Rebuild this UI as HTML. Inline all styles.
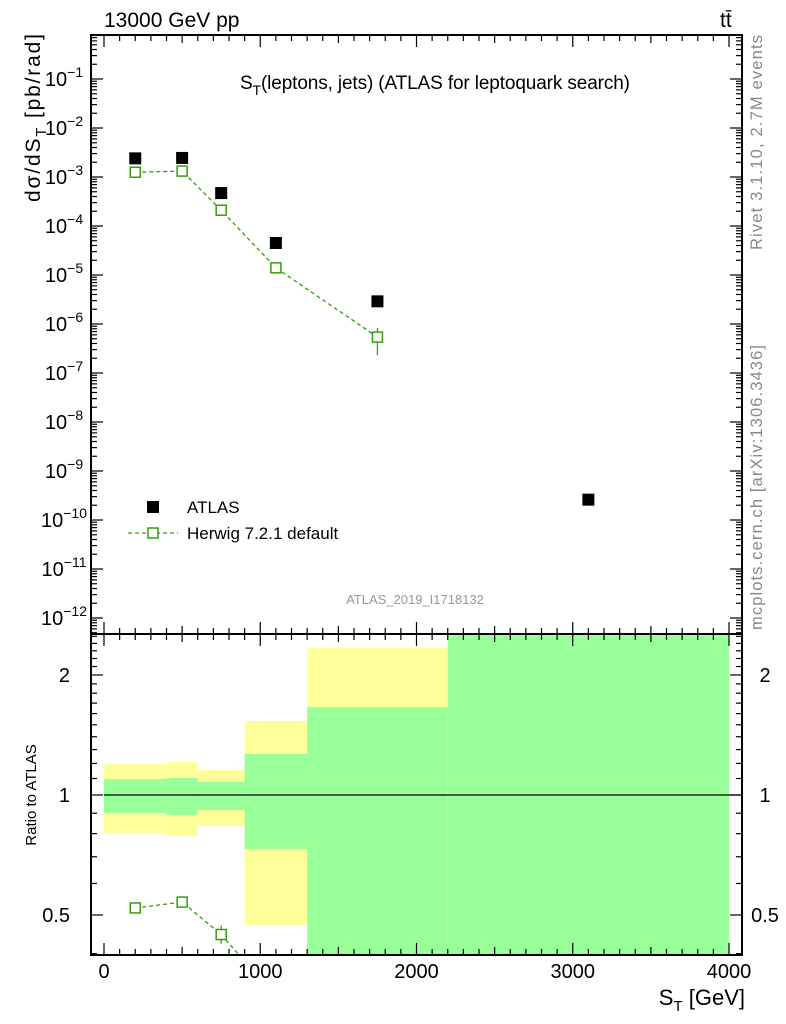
<!DOCTYPE html>
<html><head><meta charset="utf-8"><style>
html,body{margin:0;background:#fff;overflow:hidden;width:786px;height:1024px;}
svg{display:block;font-family:"Liberation Sans",sans-serif;}
</style></head><body>
<svg id="c" width="786" height="1024" xmlns="http://www.w3.org/2000/svg">
<g id="bands"></g>
<g id="marks"></g>
<g id="axes"></g>
<text x="104" y="27" font-size="21">13000 GeV pp</text>
<text x="720" y="27" font-size="21">tt̄</text>
<text x="240" y="89" font-size="19" textLength="390">S<tspan font-size="14" dy="6">T</tspan><tspan dy="-6">(leptons, jets) (ATLAS for leptoquark search)</tspan></text>
<text x="415" y="604" font-size="13" fill="#999" text-anchor="middle">ATLAS_2019_I1718132</text>
<text transform="translate(40,202) rotate(-90)" font-size="21" textLength="168">dσ/dS<tspan font-size="15" dy="6">T</tspan><tspan dy="-6"> [pb/rad]</tspan></text>
<text transform="translate(36,795) rotate(-90)" font-size="15" text-anchor="middle">Ratio to ATLAS</text>
<text x="745" y="1005" font-size="22" text-anchor="end">S<tspan font-size="15" dy="6">T</tspan><tspan dy="-6"> [GeV]</tspan></text>
<text transform="translate(762,250) rotate(-90)" font-size="16.5" fill="#888" textLength="215">Rivet 3.1.10,  2.7M events</text>
<text transform="translate(762,630) rotate(-90)" font-size="16.5" fill="#888" textLength="285">mcplots.cern.ch [arXiv:1306.3436]</text>
<g>
<rect x="147" y="501" width="12" height="12" fill="#000"/>
<text x="187" y="513" font-size="17">ATLAS</text>
<line x1="128" y1="533" x2="178" y2="533" stroke="#3a9a10" stroke-width="1.3" stroke-dasharray="4,3"/>
<rect x="148" y="528" width="10" height="10" fill="#fff" stroke="#3a9a10" stroke-width="1.5"/>
<text x="187" y="539" font-size="17">Herwig 7.2.1 default</text>
</g>
</svg>
<script>
const xVals=[200,500,750,1100,1750,3100];
const atlas=[2.4e-3,2.45e-3,4.7e-4,4.5e-5,2.9e-6,2.6e-10];
const herwig=[1.25e-3,1.32e-3,2.1e-4,1.4e-5,5.4e-7];
const herwigLo=[1.24e-3,1.31e-3,1.99e-4,1.33e-5,2.3e-7];
const herwigHi=[1.26e-3,1.33e-3,2.21e-4,1.47e-5,8.3e-7];
const binEdges=[0,400,600,900,1300,2200,4000];
const yellowHi=[1.196,1.21,1.155,1.533,2.337,10];
const yellowLo=[0.803,0.789,0.836,0.472,0.1,0.1];
const greenHi=[1.097,1.103,1.078,1.267,1.663,10];
const greenLo=[0.901,0.891,0.917,0.732,0.1,0.1];
const xTicks=[0,1000,2000,3000,4000];
const yExps=[-12,-11,-10,-9,-8,-7,-6,-5,-4,-3,-2,-1];
const rTicks=[0.5,1,2];

const NS="http://www.w3.org/2000/svg";
const L=91,R=742,T=35,M=634,B=955;
const X=v=>104+v*625/4000;
const Y=v=>79-(Math.log10(v)+1)*49;
const RY=v=>795-Math.log10(v)*398.7;
function mk(p,tag,at){const e=document.createElementNS(NS,tag);for(const k in at)e.setAttribute(k,at[k]);p.appendChild(e);return e;}
const bands=document.getElementById('bands'),marks=document.getElementById('marks'),axes=document.getElementById('axes');
const clip=v=>Math.max(M,Math.min(B,v));
for(let i=0;i<6;i++){
 let y1=clip(RY(yellowHi[i])),y2=clip(RY(yellowLo[i]));
 const r=mk(bands,'rect',{x:X(binEdges[i]),y:y1,width:X(binEdges[i+1])-X(binEdges[i]),height:y2-y1,fill:'#ffff99'});
 
 
 y1=clip(RY(greenHi[i]));y2=clip(RY(greenLo[i]));
 const g=mk(bands,'rect',{x:X(binEdges[i]),y:y1,width:X(binEdges[i+1])-X(binEdges[i]),height:y2-y1,fill:'#99ff99'});
 
 
}
mk(bands,'line',{x1:X(0),x2:R,y1:RY(1),y2:RY(1),stroke:'#000','stroke-width':1.2});
let pts=herwig.map((v,i)=>X(xVals[i])+','+Y(v)).join(' ');
const hl=mk(marks,'polyline',{points:pts,fill:'none',stroke:'#3a9a10','stroke-width':1.3,'stroke-dasharray':'4,3'});


atlas.forEach((v,i)=>{
 const r=mk(marks,'rect',{x:X(xVals[i])-6,y:Y(v)-6,width:12,height:12,fill:'#000'});
 
 
});
herwig.forEach((v,i)=>{
 const x=X(xVals[i]);
 mk(marks,'line',{x1:x,x2:x,y1:Y(herwigHi[i]),y2:Y(herwigLo[i]),stroke:'#3a9a10','stroke-width':1.3});
 const r=mk(marks,'rect',{x:x-5,y:Y(v)-5,width:10,height:10,fill:'#fff',stroke:'#3a9a10','stroke-width':1.5});
 
 
});
const rat=herwig.map((v,i)=>v/atlas[i]);
const cp=mk(mk(document.getElementById('c'),'defs',{}),'clipPath',{id:'rclip'});
mk(cp,'rect',{x:L,y:M,width:R-L,height:B-M});
const rg=mk(marks,'g',{'clip-path':'url(#rclip)'});
mk(rg,'polyline',{points:rat.map((v,i)=>X(xVals[i])+','+RY(v)).join(' '),fill:'none',stroke:'#3a9a10','stroke-width':1.3,'stroke-dasharray':'4,3'});
rat.forEach((v,i)=>{
 const x=X(xVals[i]);
 mk(rg,'line',{x1:x,x2:x,y1:RY(herwigHi[i]/atlas[i]),y2:RY(herwigLo[i]/atlas[i]),stroke:'#3a9a10','stroke-width':1.3});
 const r=mk(rg,'rect',{x:x-5,y:RY(v)-5,width:10,height:10,fill:'#fff',stroke:'#3a9a10','stroke-width':1.5});
 
 
});
mk(axes,'rect',{x:L,y:T,width:R-L,height:M-T,fill:'none',stroke:'#000','stroke-width':2});
mk(axes,'rect',{x:L,y:M,width:R-L,height:B-M,fill:'none',stroke:'#000','stroke-width':2});
const tk=(x1,y1,x2,y2)=>mk(axes,'line',{x1,y1,x2,y2,stroke:'#000','stroke-width':1.2});
for(let v=0;v<=4200;v+=100){const x=X(v);if(x<L||x>R)continue;const len=v%1000==0?12:(v%500==0?8:6);
 tk(x,T,x,T+len);tk(x,M,x,M-len);tk(x,M,x,M+len);tk(x,B,x,B-len);}
xTicks.forEach(v=>{const t=mk(axes,'text',{x:X(v),y:978,'font-size':20,'text-anchor':'middle'});t.textContent=v;
 });
for(let e=-13;e<=0;e++)for(let m=1;m<10;m++){const y=Y(m*Math.pow(10,e));if(y<T||y>M)continue;const len=m==1?12:6;tk(L,y,L+len,y);tk(R,y,R-len,y);}
yExps.forEach(e=>{const t=mk(axes,'text',{x:64,y:Y(Math.pow(10,e))+7,'font-size':20,'text-anchor':'middle'});
 t.innerHTML='10<tspan font-size="14" dy="-9">−'+(-e)+'</tspan>';
 });
for(let v=0.3;v<=3;v+=0.1){const y=RY(v);if(y<M||y>B)continue;const mj=rTicks.some(r=>Math.abs(r-v)<1e-6);const len=mj?12:6;tk(L,y,L+len,y);tk(R,y,R-len,y);}
rTicks.forEach(v=>{[70,765].forEach(x=>{const t=mk(axes,'text',{x,y:RY(v)+7,'font-size':20,'text-anchor':x<100?'end':'middle'});t.textContent=v;
 });});
</script>
</body></html>
